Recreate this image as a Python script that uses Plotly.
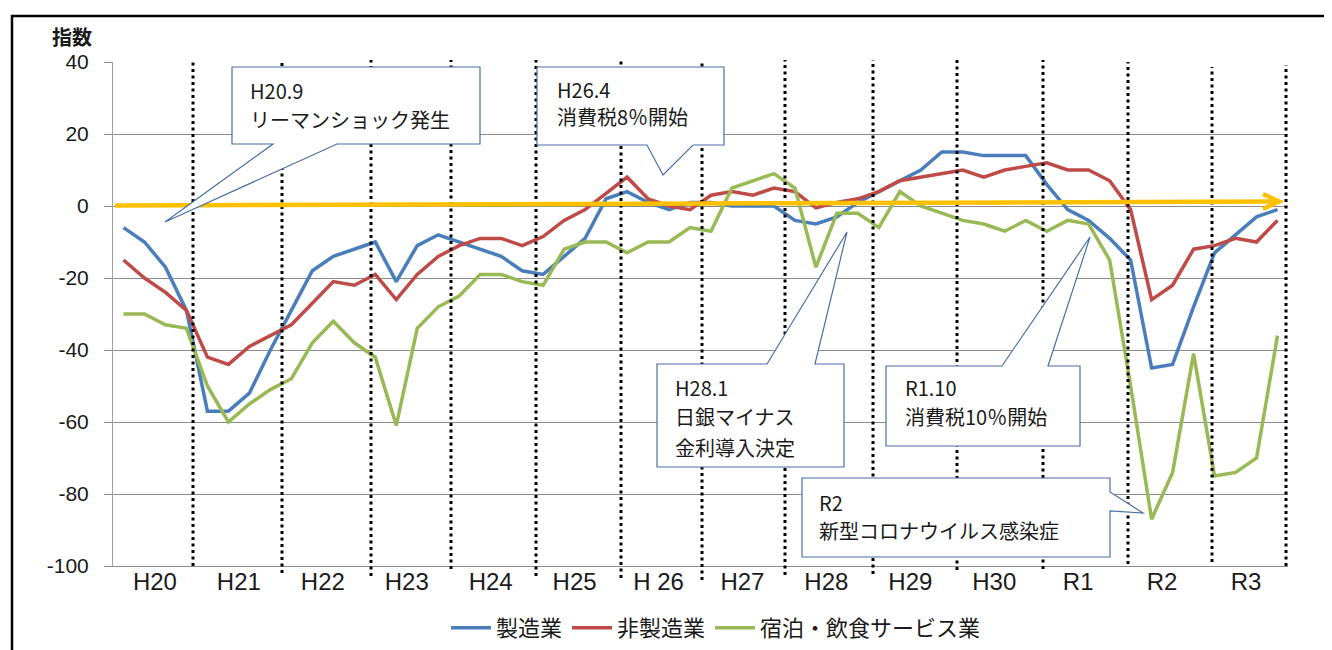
import plotly.graph_objects as go

# ---------------- data ----------------
years = ["H20", "H21", "H22", "H23", "H24", "H25", "H 26", "H27",
         "H28", "H29", "H30", "R1", "R2", "R3"]
quarters_per_year = 4

series_names = ["製造業", "非製造業", "宿泊・飲食サービス業"]

manufacturing = [-6, -10, -17, -29, -57, -57, -52, -40, -29, -18, -14, -12,
                 -10, -21, -11, -8, -10, -12, -14, -18, -19, -14, -9, 2,
                 4, 1, -1, 1, 1, 0, 0, 0, -4, -5, -3, 1,
                 4, 7, 10, 15, 15, 14, 14, 14, 6, -1, -4, -9,
                 -15, -45, -44, -28, -13, -8, -3, -1]

non_manufacturing = [-15, -20, -24, -29, -42, -44, -39, -36, -33, -27, -21, -22,
                     -19, -26, -19, -14, -11, -9, -9, -11, -8.5, -4, -1, 3.5,
                     8, 2, 0, -1, 3, 4, 3, 5, 4, -0.5, 1, 2,
                     4, 7, 8, 9, 10, 8, 10, 11, 12, 10, 10, 7,
                     -1, -26, -22, -12, -11, -9, -10, -4]

hospitality = [-30, -30, -33, -34, -50, -60, -55, -51, -48, -38, -32, -38,
               -42, -61, -34, -28, -25, -19, -19, -21, -22, -12, -10, -10,
               -13, -10, -10, -6, -7, 5, 7, 9, 5, -17, -2, -2,
               -6, 4, 0, -2, -4, -5, -7, -4, -7, -4, -5, -15,
               -50, -87, -74, -41, -75, -74, -70, -36]

y_ticks = [40, 20, 0, -20, -40, -60, -80, -100]
y_tick_labels = [str(v) for v in y_ticks]
y_title = "指数"

callout_texts = [
    ["H20.9", "リーマンショック発生"],
    ["H26.4", "消費税8％開始"],
    ["H28.1", "日銀マイナス", "金利導入決定"],
    ["R1.10", "消費税10％開始"],
    ["R2", "新型コロナウイルス感染症"],
]

# ---------------- layout helpers ----------------
# The page body has an 8px default margin; the figure is sized so that it
# fills the 1332x650 window from that offset.
OFF = 8
SCREEN_W, SCREEN_H = 1332, 650
FW, FH = SCREEN_W - OFF, SCREEN_H - OFF
# plot area in screen pixels
SL, SR, ST, SB = 113, 1288, 62, 566


def px(x):
    """screen pixel x -> paper x"""
    return (x - SL) / (SR - SL)


def py(y):
    """screen pixel y -> paper y"""
    return (SB - y) / (SB - ST)


colors = ["#4A7EBB", "#BE4B48", "#98B954"]
xs = list(range(len(manufacturing)))

fig = go.Figure()
for name, vals, col in zip(series_names, [manufacturing, non_manufacturing, hospitality], colors):
    fig.add_trace(go.Scatter(x=xs, y=vals, mode="lines", name=name,
                             line=dict(color=col, width=3.5), hoverinfo="skip"))

shapes = []

# outer frame
shapes.append(dict(type="path", xref="paper", yref="paper",
                   path=f"M {px(12)},{py(700)} L {px(12)},{py(16)} L {px(1400)},{py(16)}",
                   line=dict(color="black", width=2.5)))

# dotted year dividers (hand placed in the original)
div_x = [193, 282, 371, 451, 536, 621, 702, 785, 873, 957, 1043, 1128, 1212, 1286]
div_bottom = [566, 573, 576, 569, 576, 578, 580, 575, 574, 570, 569, 564, 562, 566]
div_top = [60, 60, 60, 60, 60, 60, 60, 60, 60, 60, 60, 62, 67, 65]
for xv, yb, yt in zip(div_x, div_bottom, div_top):
    shapes.append(dict(type="line", xref="paper", yref="paper",
                       x0=px(xv), x1=px(xv), y0=py(yb), y1=py(yt),
                       line=dict(color="black", width=3, dash="3px,3.5px"),
                       layer="above"))

# orange arrow
orange = "#FFC000"
shapes.append(dict(type="line", xref="paper", yref="paper",
                   x0=px(115), y0=py(205.5), x1=px(1278), y1=py(201.5),
                   line=dict(color=orange, width=4.5), layer="above"))
shapes.append(dict(type="path", xref="paper", yref="paper",
                   path=f"M {px(1263)},{py(194)} L {px(1279)},{py(201.5)} L {px(1263)},{py(209)}",
                   line=dict(color=orange, width=4.5), layer="above"))

# callouts: box (x0,y0,x1,y1), wedge side, base, tip, text x, text line centers
callouts = [
    dict(box=(232, 67, 480, 144), side="bottom", base=(273, 337), tip=(165, 222),
         tx=248, ty=[90.5, 119]),
    dict(box=(537, 67, 724, 145), side="bottom", base=(647, 693), tip=(663, 175),
         tx=555, ty=[89, 117]),
    dict(box=(657, 364, 844, 467), side="top", base=(767, 815), tip=(847, 232),
         tx=673, ty=[388, 417, 447]),
    dict(box=(886, 366, 1080, 446), side="top", base=(1002, 1048), tip=(1090, 237),
         tx=903, ty=[388, 417]),
    dict(box=(802, 478, 1110, 557), side="right", base=(492, 511), tip=(1143, 513),
         tx=817, ty=[502, 530]),
]

annotations = []
for c, texts in zip(callouts, callout_texts):
    x0, y0, x1, y1 = c["box"]
    a, b = c["base"]
    tx, ty = c["tip"]
    if c["side"] == "bottom":
        pts = [(x0, y0), (x1, y0), (x1, y1), (b, y1), (tx, ty), (a, y1), (x0, y1)]
    elif c["side"] == "top":
        pts = [(x0, y0), (a, y0), (tx, ty), (b, y0), (x1, y0), (x1, y1), (x0, y1)]
    else:
        pts = [(x0, y0), (x1, y0), (x1, a), (tx, ty), (x1, b), (x1, y1), (x0, y1)]
    path = "M " + " L ".join(f"{px(p[0])},{py(p[1])}" for p in pts) + " Z"
    shapes.append(dict(type="path", xref="paper", yref="paper", path=path,
                       fillcolor="white", line=dict(color="#4A6FA5", width=1.2),
                       layer="above"))
    for t, yy in zip(texts, c["ty"]):
        annotations.append(dict(text=t, xref="paper", yref="paper",
                                x=px(c["tx"]), y=py(yy), xanchor="left", yanchor="middle",
                                showarrow=False,
                                font=dict(family="Noto Sans CJK JP", size=20, color="#1a1a1a")))

annotations.append(dict(text=y_title, xref="paper", yref="paper", x=px(72), y=py(37),
                        xanchor="center", yanchor="middle", showarrow=False, borderpad=0,
                        font=dict(family="Noto Sans CJK JP", size=20, color="#1a1a1a",
                                  weight="bold")))

fig.update_layout(
    width=FW, height=FH,
    margin=dict(l=SL - OFF, r=FW - (SR - OFF), t=ST - OFF, b=FH - (SB - OFF),
                pad=0, autoexpand=False),
    paper_bgcolor="white", plot_bgcolor="white",
    showlegend=True,
    legend=dict(orientation="h", xref="container", yref="container",
                x=(716 - OFF) / FW, y=(FH - (628 - OFF)) / FH,
                xanchor="center", yanchor="middle",
                font=dict(family="Noto Sans CJK JP", size=22, color="#1a1a1a"),
                itemwidth=40, bgcolor="rgba(0,0,0,0)"),
    shapes=shapes,
    annotations=annotations,
    xaxis=dict(range=[-0.5, len(xs) - 0.5],
               tickvals=[i * quarters_per_year + (quarters_per_year - 1) / 2 for i in range(len(years))],
               ticktext=years, ticks="", ticklen=0, showgrid=False, zeroline=False,
               showline=True, linecolor="#8c8c8c", linewidth=1, automargin=False,
               tickfont=dict(family="Liberation Sans", size=24, color="#1a1a1a"),
               ticklabelstandoff=-6, fixedrange=True),
    yaxis=dict(range=[-100, 40], tickvals=y_ticks, ticktext=y_tick_labels,
               ticks="outside", ticklen=8, automargin=False,
               tickcolor="#8c8c8c", showgrid=True, gridcolor="#8c8c8c", gridwidth=1,
               zeroline=False, showline=True, linecolor="#a0a0a0", linewidth=1,
               tickfont=dict(family="Liberation Sans", size=21, color="#1a1a1a"),
               ticklabelstandoff=11, fixedrange=True),
)

fig.write_html("out.html", config={"displayModeBar": False})
